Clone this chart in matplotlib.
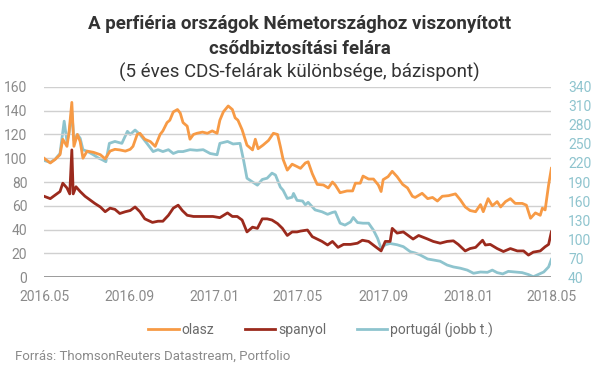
import matplotlib
matplotlib.use("Agg")
import matplotlib.pyplot as plt
import matplotlib.dates as mdates
import pandas as pd

# ----------------------------
# DATA
# ----------------------------
olasz_dates = [
    "2016-05-01", "2016-05-10", "2016-05-17", "2016-05-24", "2016-05-28", "2016-06-03",
    "2016-06-06", "2016-06-10", "2016-06-13", "2016-06-18", "2016-06-22", "2016-06-26",
    "2016-07-02", "2016-07-11", "2016-07-21", "2016-07-28", "2016-08-04", "2016-08-11",
    "2016-08-18", "2016-08-26", "2016-09-02", "2016-09-06", "2016-09-12", "2016-09-16",
    "2016-09-23", "2016-10-01", "2016-10-08", "2016-10-15", "2016-10-19", "2016-10-25",
    "2016-10-29", "2016-11-03", "2016-11-09", "2016-11-13", "2016-11-17", "2016-11-23",
    "2016-11-27", "2016-12-02", "2016-12-07", "2016-12-15", "2016-12-22", "2016-12-29",
    "2017-01-05", "2017-01-09", "2017-01-14", "2017-01-21", "2017-01-27", "2017-01-31",
    "2017-02-04", "2017-02-10", "2017-02-17", "2017-02-25", "2017-03-01", "2017-03-05",
    "2017-03-12", "2017-03-20", "2017-03-27", "2017-04-02", "2017-04-06", "2017-04-10",
    "2017-04-16", "2017-04-23", "2017-04-30", "2017-05-05", "2017-05-12", "2017-05-16",
    "2017-05-22", "2017-05-29", "2017-06-07", "2017-06-14", "2017-06-20", "2017-06-24",
    "2017-07-01", "2017-07-11", "2017-07-19", "2017-07-23", "2017-07-30", "2017-08-03",
    "2017-08-11", "2017-08-18", "2017-08-25", "2017-08-29", "2017-09-01", "2017-09-08",
    "2017-09-14", "2017-09-21", "2017-09-29", "2017-10-06", "2017-10-13", "2017-10-17",
    "2017-10-27", "2017-11-04", "2017-11-11", "2017-11-18", "2017-11-25", "2017-12-04",
    "2017-12-14", "2017-12-21", "2017-12-28", "2018-01-04", "2018-01-12", "2018-01-19",
    "2018-01-23", "2018-01-30", "2018-02-05", "2018-02-12", "2018-02-17", "2018-02-24",
    "2018-03-03", "2018-03-10", "2018-03-20", "2018-03-26", "2018-04-01", "2018-04-08",
    "2018-04-15", "2018-04-18", "2018-04-22", "2018-04-27", "2018-05-01",
]
olasz = [
    100, 96, 99, 103, 116, 110,
    122, 147, 110, 120, 114, 100,
    106, 105, 103, 99.5, 106, 107.5,
    107, 106, 107.5, 110, 120, 121,
    116, 114, 110, 120, 123, 130,
    132, 139, 141, 138, 130, 127,
    116, 120, 121, 122, 121, 123,
    121, 132, 139, 144, 141, 134,
    132, 124, 111, 107, 116, 108,
    111, 115, 121, 120, 110, 99,
    90, 95, 93, 91.5, 96, 97,
    87, 78, 77.5, 75, 80, 77.5,
    71, 72.5, 72.5, 79, 79, 85,
    82.5, 82.5, 77.5, 72, 82, 84.5,
    89, 84.5, 78, 75, 68, 67,
    70.5, 66, 67, 64, 68, 68.5,
    70, 65, 59, 56, 55, 61,
    55, 66, 60, 63.5, 59, 63.5,
    66, 62, 62, 60.5, 49.5, 54,
    52, 58, 56.5, 77.5, 91.5,
]

spanyol_dates = [
    "2016-05-01", "2016-05-10", "2016-05-17", "2016-05-24", "2016-05-28", "2016-06-03",
    "2016-06-07", "2016-06-10", "2016-06-12", "2016-06-16", "2016-06-22", "2016-06-29",
    "2016-07-06", "2016-07-13", "2016-07-21", "2016-07-28", "2016-08-04", "2016-08-11",
    "2016-08-18", "2016-08-26", "2016-09-02", "2016-09-09", "2016-09-16", "2016-09-23",
    "2016-10-04", "2016-10-12", "2016-10-19", "2016-10-27", "2016-11-03", "2016-11-10",
    "2016-11-16", "2016-11-23", "2016-12-02", "2016-12-12", "2016-12-22", "2016-12-30",
    "2017-01-09", "2017-01-20", "2017-01-27", "2017-02-03", "2017-02-10", "2017-02-17",
    "2017-02-25", "2017-03-04", "2017-03-11", "2017-03-18", "2017-03-25", "2017-04-02",
    "2017-04-09", "2017-04-16", "2017-04-23", "2017-04-30", "2017-05-05", "2017-05-15",
    "2017-05-22", "2017-05-29", "2017-06-05", "2017-06-13", "2017-06-20", "2017-06-28",
    "2017-07-06", "2017-07-16", "2017-07-26", "2017-08-02", "2017-08-11", "2017-08-21",
    "2017-08-29", "2017-09-04", "2017-09-11", "2017-09-14", "2017-09-21", "2017-09-30",
    "2017-10-07", "2017-10-14", "2017-10-22", "2017-11-04", "2017-11-12", "2017-11-22",
    "2017-12-02", "2017-12-11", "2017-12-18", "2017-12-28", "2018-01-04", "2018-01-12",
    "2018-01-22", "2018-01-26", "2018-02-02", "2018-02-12", "2018-02-21", "2018-03-03",
    "2018-03-13", "2018-03-22", "2018-03-29", "2018-04-05", "2018-04-15", "2018-04-22",
    "2018-04-27", "2018-05-01",
]
spanyol = [
    68, 66, 69, 72, 79, 75,
    70, 107, 70, 76, 72, 68,
    65, 62, 59, 55, 58, 57,
    53.5, 55, 56, 59, 55, 49,
    46, 47, 47, 52, 58, 60.5,
    56, 52, 51, 51, 51, 51,
    50, 54, 51, 51, 48, 38,
    42, 41, 49, 49, 48, 45,
    41, 35, 38, 38, 38.7, 39.6,
    34, 32, 30, 27, 30, 25,
    27.5, 27.5, 28.5, 31, 30, 25.5,
    22, 30, 30, 41, 37, 38,
    35, 32, 35, 32, 30, 28.5,
    30, 30.5, 27.5, 22, 24, 25,
    31, 27, 27.5, 24, 21.5, 24,
    22, 22, 18.5, 21, 22, 25.5,
    27.5, 38,
]

portugal_dates = [
    "2016-05-01", "2016-05-10", "2016-05-17", "2016-05-24", "2016-05-30", "2016-06-03",
    "2016-06-06", "2016-06-10", "2016-06-13", "2016-06-18", "2016-06-22", "2016-06-26",
    "2016-07-03", "2016-07-11", "2016-07-18", "2016-07-24", "2016-07-29", "2016-08-03",
    "2016-08-11", "2016-08-21", "2016-08-29", "2016-09-02", "2016-09-09", "2016-09-16",
    "2016-09-26", "2016-10-05", "2016-10-12", "2016-10-19", "2016-10-27", "2016-11-03",
    "2016-11-10", "2016-11-17", "2016-11-27", "2016-12-07", "2016-12-16", "2016-12-26",
    "2017-01-05", "2017-01-09", "2017-01-20", "2017-01-28", "2017-02-07", "2017-02-12",
    "2017-02-17", "2017-02-25", "2017-03-04", "2017-03-11", "2017-03-18", "2017-03-25",
    "2017-03-30", "2017-04-06", "2017-04-10", "2017-04-16", "2017-04-23", "2017-04-25",
    "2017-04-30", "2017-05-08", "2017-05-12", "2017-05-16", "2017-05-26", "2017-06-05",
    "2017-06-13", "2017-06-20", "2017-06-24", "2017-07-01", "2017-07-08", "2017-07-16",
    "2017-07-20", "2017-07-26", "2017-08-03", "2017-08-11", "2017-08-18", "2017-08-24",
    "2017-08-29", "2017-09-04", "2017-09-11", "2017-09-21", "2017-09-30", "2017-10-10",
    "2017-10-17", "2017-10-24", "2017-11-04", "2017-11-12", "2017-11-22", "2017-12-02",
    "2017-12-11", "2017-12-21", "2017-12-31", "2018-01-09", "2018-01-19", "2018-01-29",
    "2018-02-05", "2018-02-12", "2018-02-20", "2018-02-28", "2018-03-10", "2018-03-20",
    "2018-03-29", "2018-04-05", "2018-04-12", "2018-04-20", "2018-04-27", "2018-05-01",
]
# right axis values
portugal = [
    224, 221, 226, 235, 286, 254,
    267, 301, 256, 265, 259, 241,
    238, 233, 228, 225, 222, 251,
    254, 251, 270, 265, 272, 265,
    251, 238, 241, 238, 241, 235,
    238, 238, 241, 240, 241, 235,
    233, 251, 254, 250, 251, 225,
    196, 190, 185, 194, 196, 204,
    201, 182, 177, 164, 166, 172,
    161, 160, 154, 158, 146, 143,
    139, 142, 143, 125, 122, 127,
    134, 126, 125, 125, 114, 101,
    85, 91, 93, 91, 88, 80,
    78, 75, 68.5, 67, 65, 59,
    56, 54, 51, 46, 48, 47.5,
    51, 47, 45, 49, 48, 47,
    44, 40.5, 44, 48, 56, 68,
]

labels = ["olasz", "spanyol", "portugál (jobb t.)"]
colors = ["#F79A45", "#9B2A1D", "#8EC4CE"]

# ----------------------------
# PLOT
# ----------------------------
plt.rcParams["font.family"] = ["Roboto", "DejaVu Sans"]

fig = plt.figure(figsize=(5.99, 3.78), dpi=100)
ax = fig.add_axes([0.0735, 0.267, 0.847, 0.503])
ax2 = ax.twinx()

ax.plot(pd.to_datetime(olasz_dates), olasz, color=colors[0], linewidth=2.0, label=labels[0])
ax.plot(pd.to_datetime(spanyol_dates), spanyol, color=colors[1], linewidth=2.0, label=labels[1])
ax2.plot(pd.to_datetime(portugal_dates), portugal, color=colors[2], linewidth=2.0, label=labels[2])

# put the left axis lines on top of the right-axis line
ax.set_zorder(ax2.get_zorder() + 1)
ax.patch.set_visible(False)

ax.set_ylim(0, 160)
ax.set_yticks(range(0, 161, 20))
ax2.set_ylim(40, 340)
ax2.set_yticks(range(40, 341, 30))
ax.set_xlim(pd.Timestamp("2016-05-01"), pd.Timestamp("2018-05-01"))
ax.xaxis.set_major_locator(mdates.MonthLocator(bymonth=[1, 5, 9]))
ax.xaxis.set_major_formatter(mdates.DateFormatter("%Y.%m"))

ax.yaxis.grid(True, color="#d0d0d0", linewidth=1.0)
ax.set_axisbelow(True)
for a in (ax, ax2):
    for s in ("top", "left", "right", "bottom"):
        a.spines[s].set_visible(False)
ax.axhline(0, color="#8c8c8c", linewidth=1.2, zorder=1)

ax.tick_params(axis="y", length=0, pad=12, labelsize=10, labelcolor="#8a8a8a")
ax.tick_params(axis="x", length=0, pad=9, labelsize=10, labelcolor="#8a8a8a")
ax2.tick_params(axis="y", length=0, pad=12, labelsize=10, labelcolor="#8EC4CE")

# title (three lines)
fig.text(0.5, 0.9225, "A perfiéria országok Németországhoz viszonyított",
         ha="center", va="baseline", fontsize=13.5, fontweight="bold", color="#333333")
fig.text(0.5, 0.858, "csődbiztosítási felára",
         ha="center", va="baseline", fontsize=13.5, fontweight="bold", color="#333333")
fig.text(0.5, 0.795, "(5 éves CDS-felárak különbsége, bázispont)",
         ha="center", va="baseline", fontsize=13.5, color="#333333")

h1, l1 = ax.get_legend_handles_labels()
h2, l2 = ax2.get_legend_handles_labels()
fig.legend(h1 + h2, l1 + l2, loc="center", bbox_to_anchor=(0.535, 0.127), ncol=3,
           frameon=False, fontsize=10, handlelength=2.2, handletextpad=0.2,
           columnspacing=2.2, labelcolor="#6b6b6b")

fig.text(0.025, 0.058, "Forrás: ThomsonReuters Datastream, Portfolio",
         ha="left", va="center", fontsize=9.5, color="#8a8a8a")

plt.savefig("out.png", dpi=100)
